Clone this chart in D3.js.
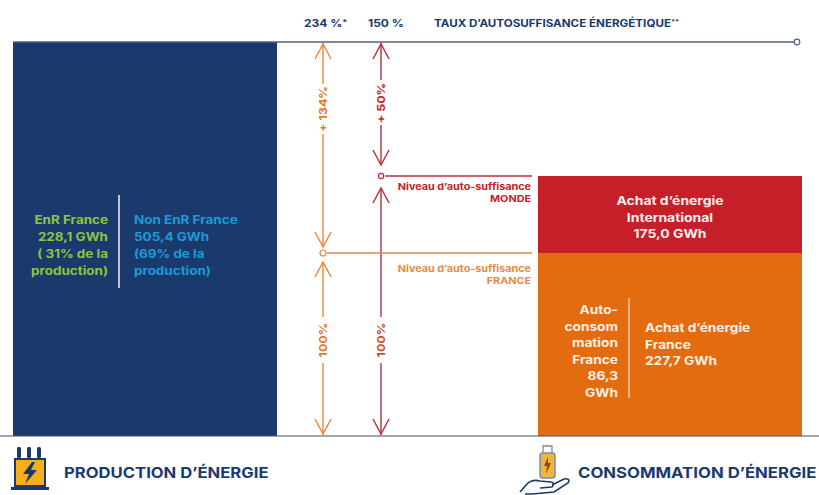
<!DOCTYPE html>
<html>
<head>
<meta charset="utf-8">
<script src="https://cdnjs.cloudflare.com/ajax/libs/d3/7.8.5/d3.min.js"></script>
<style>
html,body{margin:0;padding:0;background:#fff;overflow:hidden}
text{font-family:Inter,"Open Sans",sans-serif;font-weight:700}
</style>
</head>
<body>
<div id="chart"></div>
<script>
var max_w = 819;
var max_h = 495;

// GWh values
var categories = ["Production", "Consommation"];
var productionParts = ["EnR France", "Non EnR France"];
var productionValues = [228.1, 505.4];
var consumptionParts = ["Auto-consommation France", "Achat France", "Achat International"];
var consumptionValues = [86.3, 227.7, 175.0];
var rateLabels = ["234 %", "150 %"];
var rateTitle = "TAUX D\u2019AUTOSUFFISANCE ÉNERGÉTIQUE";

var navy = "#1a3a6e", red = "#c5202a", orange = "#e36c0e", green = "#8cc63f", blue = "#1b9ad6";
var axisLine = "#4f6285";

var selfFrance = consumptionValues[0] + consumptionValues[1];
var selfWorld = selfFrance + consumptionValues[2];
var totalProd = d3.sum(productionValues);

var svg = d3.select("#chart").append("svg")
  .attr("width", max_w)
  .attr("height", max_h)
  .style("display", "block");

// the original is not drawn to one scale, so the y scale has a stop per level
var y = d3.scaleLinear()
  .domain([0, selfFrance, selfWorld, totalProd])
  .range([436, 253, 176, 42]);

var x = d3.scaleBand()
  .domain(categories)
  .range([13, 802])
  .paddingInner(0.4971);

function multiline(px, py, lines, size, lh, color, anchor){
  var t = svg.append("text")
    .attr("x", px).attr("y", py)
    .attr("fill", color)
    .attr("text-anchor", anchor)
    .style("font-size", size + "px");
  lines.forEach(function(l, i){
    t.append("tspan").attr("x", px).attr("dy", i ? lh : 0).text(l);
  });
  return t;
}

// bars
svg.append("rect")
  .attr("x", x("Production")).attr("width", x.bandwidth())
  .attr("y", y(totalProd)).attr("height", y(0) - y(totalProd))
  .attr("fill", navy);

var stack = [
  {low: 0, high: selfFrance, color: orange},
  {low: selfFrance, high: selfWorld, color: red}
];
svg.selectAll("rect.cons").data(stack).enter().append("rect")
  .attr("class", "cons")
  .attr("x", x("Consommation")).attr("width", x.bandwidth())
  .attr("y", function(d){ return y(d.high); })
  .attr("height", function(d){ return y(d.low) - y(d.high); })
  .attr("fill", function(d){ return d.color; });

// top rate line
svg.append("line")
  .attr("x1", 13).attr("x2", 794)
  .attr("y1", y(totalProd)).attr("y2", y(totalProd))
  .attr("stroke", axisLine).attr("stroke-width", 1.6);
svg.append("circle")
  .attr("cx", 797).attr("cy", y(totalProd)).attr("r", 2.8)
  .attr("fill", "#fff").attr("stroke", axisLine).attr("stroke-width", 1.2);

// baseline
svg.append("line")
  .attr("x1", 0).attr("x2", max_w)
  .attr("y1", y(0)).attr("y2", y(0))
  .attr("stroke", "#46505f").attr("stroke-width", 1.2);

// header
var h1 = svg.append("text").attr("x", 304).attr("y", 27)
  .attr("fill", navy).style("font-size", "10.5px").text(rateLabels[0]);
h1.append("tspan").attr("dy", -2).style("font-size", "8px").text("*");
svg.append("text").attr("x", 386).attr("y", 27).attr("text-anchor", "middle")
  .attr("fill", navy).style("font-size", "10.5px").text(rateLabels[1]);
var h2 = svg.append("text").attr("x", 434).attr("y", 27)
  .attr("fill", navy).style("font-size", "10.2px").text(rateTitle);
h2.append("tspan").attr("dy", -3).style("font-size", "6.5px").text("**");

// arrows
function arrowHead(px, py, dir, color){
  svg.append("path")
    .attr("d", "M" + (px - 8) + " " + (py + dir * 15) + " L" + px + " " + py + " L" + (px + 8) + " " + (py + dir * 15))
    .attr("fill", "none").attr("stroke", color).attr("stroke-width", 1.4);
}
function vline(px, y1, y2, color){
  svg.append("line").attr("x1", px).attr("x2", px).attr("y1", y1).attr("y2", y2)
    .attr("stroke", color).attr("stroke-width", 1.4);
}
function vlabel(px, py, label, color){
  svg.append("text")
    .attr("transform", "translate(" + px + "," + py + ") rotate(-90)")
    .attr("text-anchor", "middle")
    .attr("fill", color).style("font-size", "11px").text(label);
}
var xFr = 323, xWo = 381;
var orangeLine = "#e8873a", redLine = "#b5303c";

// France arrow
vline(xFr, y(totalProd) + 1, 84, orangeLine);
vline(xFr, 134, y(selfFrance) - 6, orangeLine);
vline(xFr, y(selfFrance) + 9, 317, orangeLine);
vline(xFr, 363, y(0) - 1, orangeLine);
arrowHead(xFr, y(totalProd) + 2, 1, orangeLine);
arrowHead(xFr, y(selfFrance) - 6, -1, orangeLine);
arrowHead(xFr, y(selfFrance) + 9, 1, orangeLine);
arrowHead(xFr, y(0) - 2, -1, orangeLine);
vlabel(xFr + 4, 109, "+ 134%", "#e07a2c");
vlabel(xFr + 4, 340, "100%", "#e07a2c");

// World arrow
vline(xWo, y(totalProd) + 1, 80, redLine);
vline(xWo, 125, 165, redLine);
vline(xWo, y(selfWorld) + 12, 317, redLine);
vline(xWo, 363, y(0) - 1, redLine);
arrowHead(xWo, y(totalProd) + 2, 1, redLine);
arrowHead(xWo, y(selfWorld) - 11, -1, redLine);
arrowHead(xWo, y(selfWorld) + 12, 1, redLine);
arrowHead(xWo, y(0) - 2, -1, redLine);
vlabel(xWo + 4, 103, "+ 50%", red);
vlabel(xWo + 4, 340, "100%", "#c9502c");

// level lines
svg.append("line").attr("x1", 385).attr("x2", 532)
  .attr("y1", y(selfWorld)).attr("y2", y(selfWorld))
  .attr("stroke", redLine).attr("stroke-width", 1.3);
svg.append("circle").attr("cx", xWo).attr("cy", y(selfWorld)).attr("r", 2.6)
  .attr("fill", "#fff").attr("stroke", redLine).attr("stroke-width", 1.2);
svg.append("line").attr("x1", 327).attr("x2", 532)
  .attr("y1", y(selfFrance)).attr("y2", y(selfFrance))
  .attr("stroke", orangeLine).attr("stroke-width", 1.3);
svg.append("circle").attr("cx", xFr).attr("cy", y(selfFrance)).attr("r", 3)
  .attr("fill", "#fff").attr("stroke", orangeLine).attr("stroke-width", 1.2);

multiline(531, 190, ["Niveau d\u2019auto-suffisance", "MONDE"], 9.3, 12, red, "end");
multiline(531, 272, ["Niveau d\u2019auto-suffisance", "FRANCE"], 9.3, 12, "#e58a45", "end");

// production labels
svg.append("line").attr("x1", 119).attr("x2", 119).attr("y1", 195).attr("y2", 288)
  .attr("stroke", "#fff").attr("stroke-width", 1.4);
multiline(108, 224, ["EnR France", productionValues[0].toFixed(1).replace(".", ",") + " GWh", "( 31% de la", "production)"], 11.6, 17, green, "end");
multiline(134, 224, ["Non EnR France", productionValues[1].toFixed(1).replace(".", ",") + " GWh", "(69% de la", "production)"], 11.6, 17, blue, "start");

// consumption labels
multiline(670, 205, ["Achat d\u2019énergie", "International", consumptionValues[2].toFixed(1).replace(".", ",") + " GWh"], 12, 16.5, "#fdeeee", "middle");
multiline(618, 314, ["Auto-", "consom", "mation", "France", String(consumptionValues[0]).replace(".", ","), "GWh"], 11.8, 16.5, "#fdf0e6", "end");
svg.append("line").attr("x1", 629).attr("x2", 629).attr("y1", 298).attr("y2", 398)
  .attr("stroke", "#fbe3cc").attr("stroke-width", 1.2);
multiline(645, 332, ["Achat d\u2019énergie", "France", String(consumptionValues[1]).replace(".", ",") + " GWh"], 11.8, 16.5, "#fdf0e6", "start");

// footer
svg.append("text").attr("x", 64).attr("y", 478).attr("fill", navy)
  .style("font-size", "14.6px").text("PRODUCTION D\u2019ÉNERGIE");
svg.append("text").attr("x", 578).attr("y", 478).attr("fill", navy)
  .style("font-size", "14.7px").text("CONSOMMATION D\u2019ÉNERGIE");

// the source font is wider than any installed one, stretch every line to fit
svg.selectAll("text").each(function(){
  var el = d3.select(this);
  var spans = el.selectAll("tspan");
  if (spans.size() && !el.text().match(/\*/)) {
    spans.each(function(){
      d3.select(this)
        .attr("textLength", this.getComputedTextLength() * 1.16)
        .attr("lengthAdjust", "spacingAndGlyphs");
    });
  } else {
    el.attr("textLength", this.getComputedTextLength() * 1.14)
      .attr("lengthAdjust", "spacingAndGlyphs");
  }
});

// transformer icon
var ic1 = svg.append("g").attr("transform", "translate(10,447)");
[9, 19, 29].forEach(function(cx){
  ic1.append("rect").attr("x", cx - 2).attr("y", 0).attr("width", 4).attr("height", 11).attr("rx", 1.5).attr("fill", navy);
});
ic1.append("rect").attr("x", 5).attr("y", 12).attr("width", 30).attr("height", 27).attr("fill", "#f6ae1a").attr("stroke", navy).attr("stroke-width", 2);
ic1.append("rect").attr("x", 1).attr("y", 40).attr("width", 38).attr("height", 3).attr("fill", navy);
ic1.append("path").attr("d", "M22 15 L13 27 L19 27 L15 37 L27 23 L21 23 L25 15 Z").attr("fill", navy);

// battery and hand icon
var ic2 = svg.append("g").attr("transform", "translate(518,445)");
ic2.append("rect").attr("x", 22).attr("y", 8).attr("width", 15).attr("height", 25).attr("rx", 3).attr("fill", "#f0b63a").attr("stroke", "#7b8aa6").attr("stroke-width", 1.5);
ic2.append("path").attr("d", "M25 8 L25 1 L34 1 L34 8").attr("fill", "none").attr("stroke", "#7b8aa6").attr("stroke-width", 1.3);
ic2.append("path").attr("d", "M30 12 L26 21 L29 21 L28 29 L33 18 L30 18 Z").attr("fill", "#8a4b20");
ic2.append("path").attr("d", "M2 47 L9 39 Q14 34 22 36 L33 37 Q38 38 34 42 L22 43 M34 40 L46 34 Q53 33 50 38 L36 47 L14 49 L7 49")
  .attr("fill", "none").attr("stroke", navy).attr("stroke-width", 1.6);
</script>
</body>
</html>
